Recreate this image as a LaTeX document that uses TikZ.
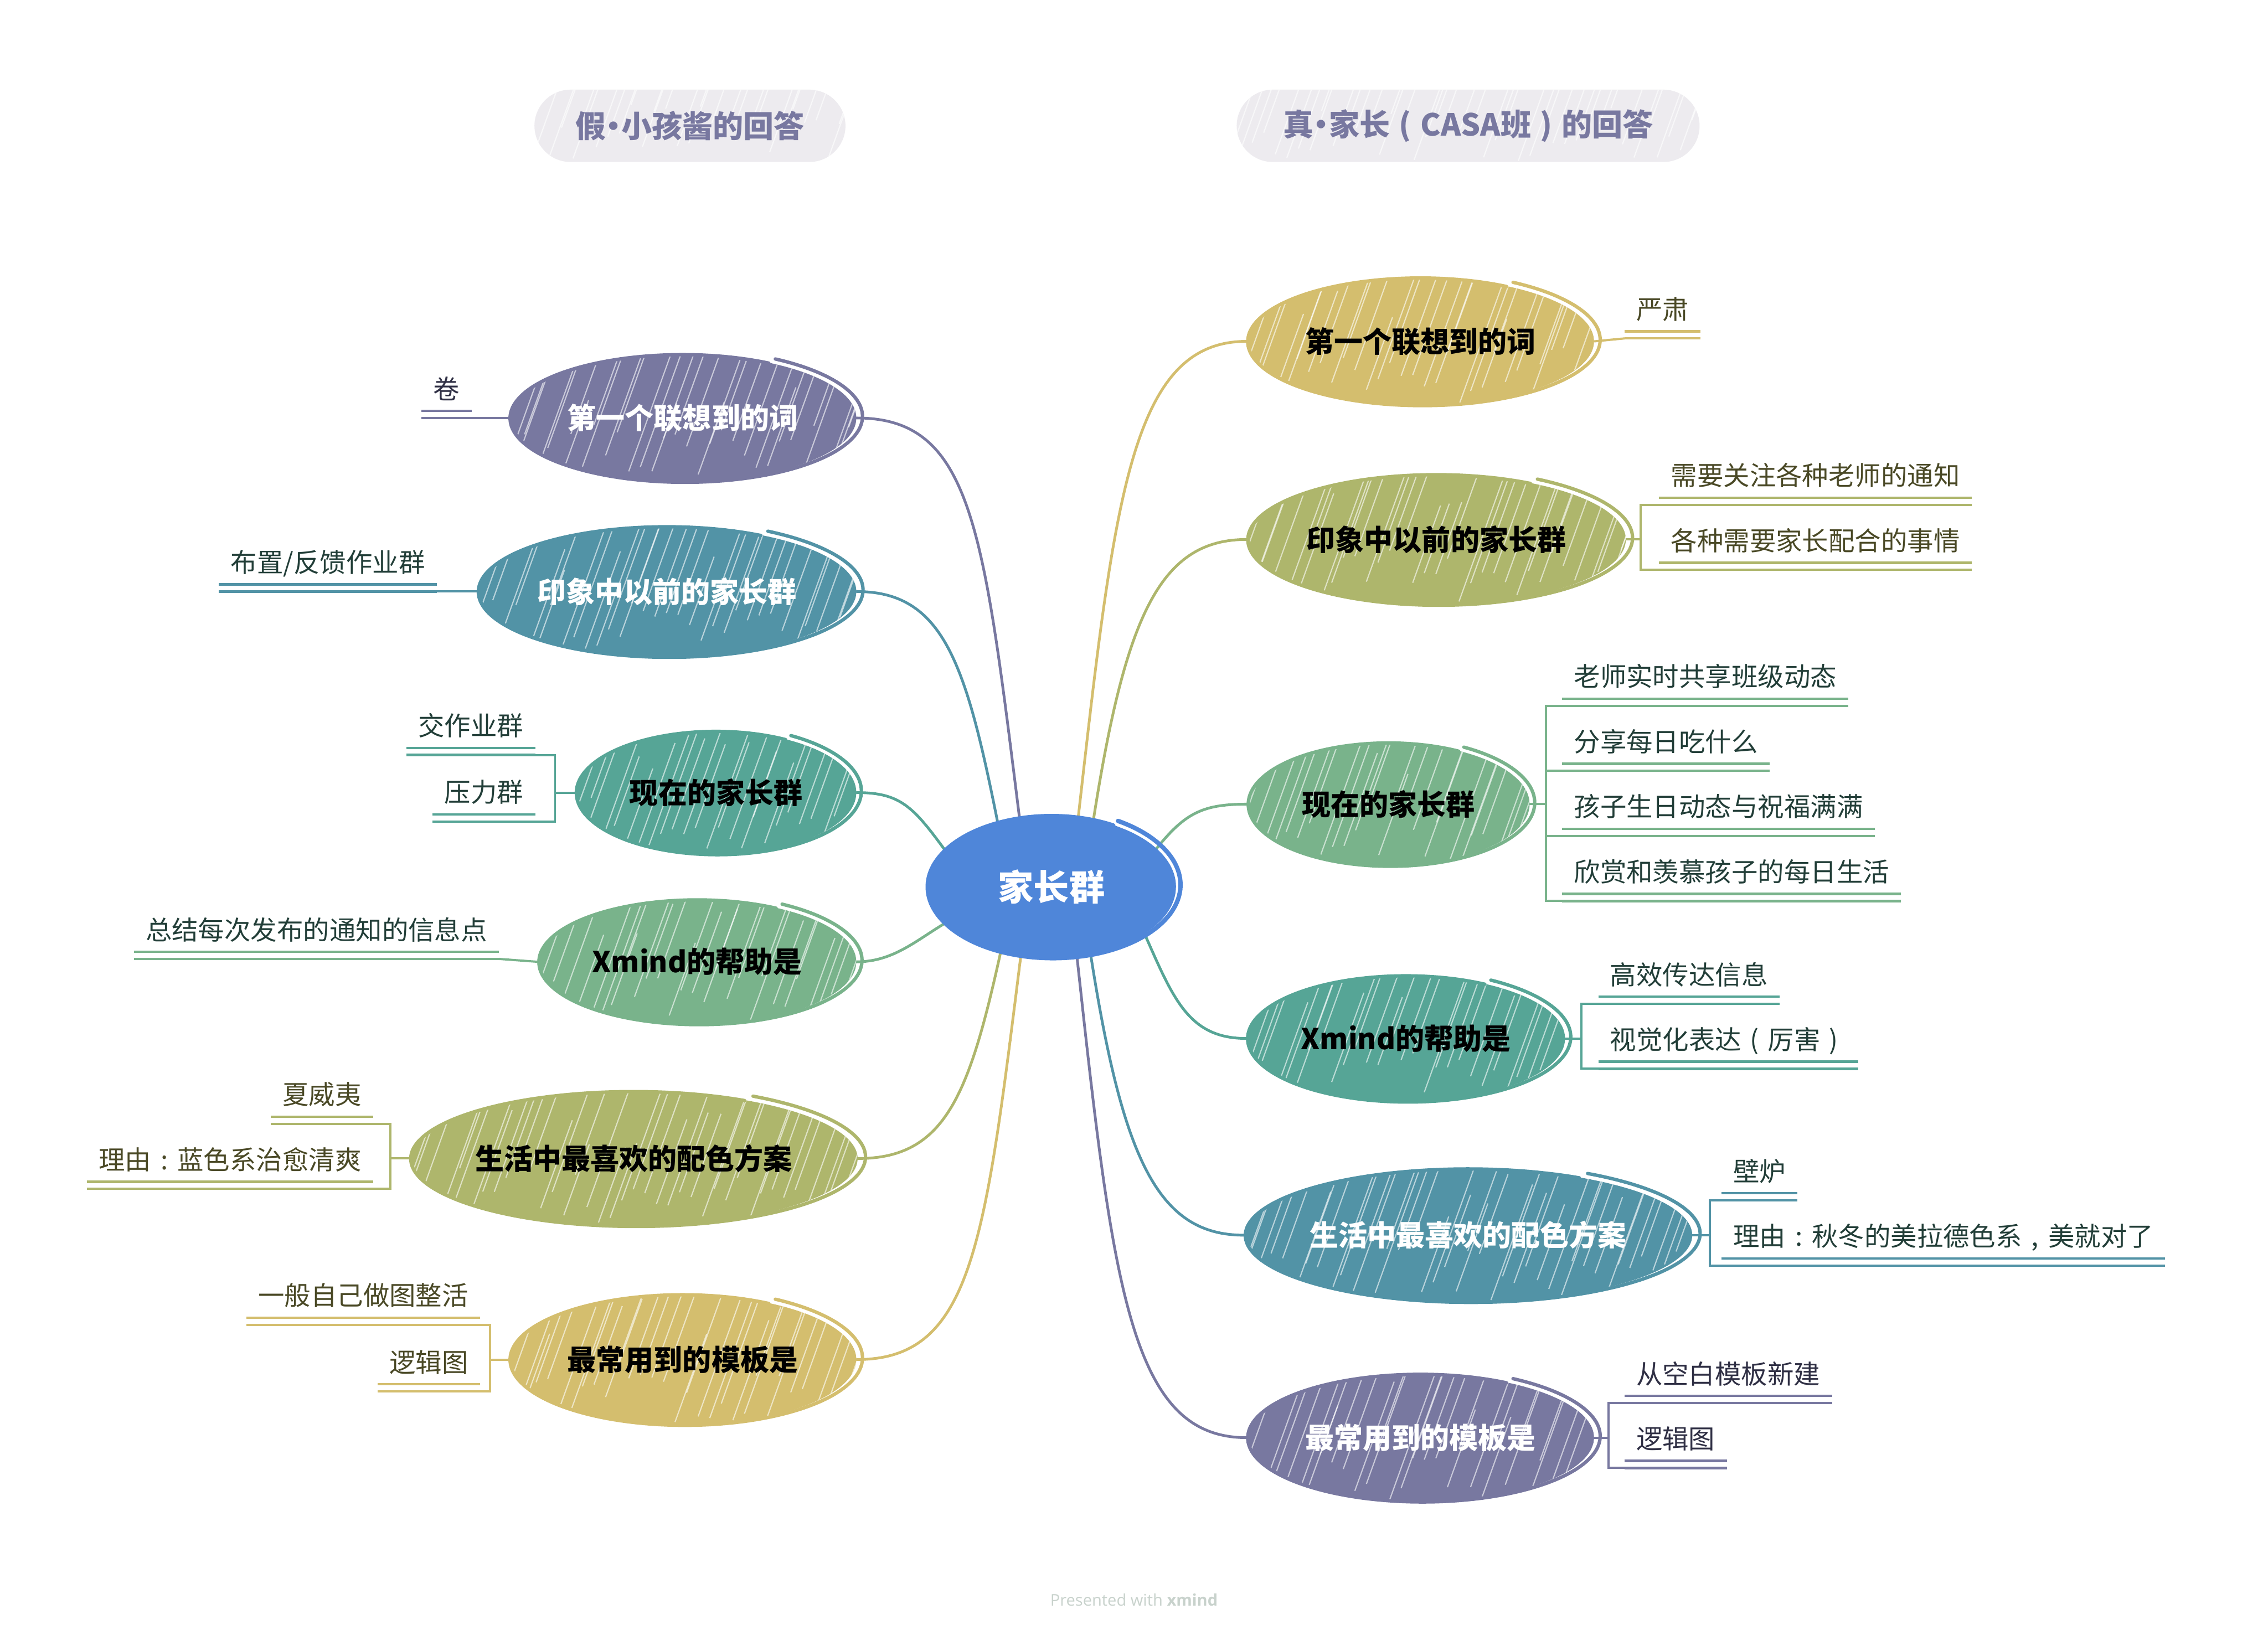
\documentclass[tikz,border=0pt]{standalone}
\usepackage{fontspec}
\setmainfont{Noto Sans CJK SC}
\newfontfamily\latinsans{Open Sans}
\usetikzlibrary{shapes.geometric,calc}
\definecolor{cblue}{HTML}{4F86D9}
\definecolor{cpurple}{HTML}{7878A0}
\definecolor{ctealb}{HTML}{5293A6}
\definecolor{ctealg}{HTML}{56A596}
\definecolor{cgreen}{HTML}{79B38B}
\definecolor{colive}{HTML}{AEB66C}
\definecolor{cgold}{HTML}{D4BE6E}
\definecolor{cpill}{HTML}{EDEBEF}
\definecolor{tolive}{HTML}{4A4926}
\definecolor{tteal}{HTML}{223E38}
\definecolor{tpurple}{HTML}{2F2F44}
\definecolor{credit}{HTML}{C8D2CC}
\newcommand\wlp{\makebox[1em][c]{(}}
\newcommand\wrp{\makebox[1em][c]{)}}
\newcommand\wcolon{\makebox[1em][c]{:}}
\newcommand\wcomma{\makebox[1em][c]{,}}
\newcommand\mdot{\makebox[0.5em][c]{·}}
\pgfdeclarelayer{paper}\pgfdeclarelayer{links}\pgfsetlayers{paper,links,main}
\tikzset{
  hatch/.style={path picture={
    \foreach \k in {0,...,46}{
      \pgfmathsetmacro\ya{rnd*1.2}
      \pgfmathsetmacro\hl{1.4+rnd*2.2}
      \draw[white, line width=0.7pt, opacity=0.6]
        ([xshift=\k*0.24cm-1.6cm, yshift=\ya cm]path picture bounding box.south west)
        -- ++({0.36*\hl*1cm},{\hl*1cm});
    }}},
  mainnode/.style={ellipse, inner sep=0pt, fill=#1, hatch,
    font=\bfseries\fontsize{17}{20}\selectfont},
  pill/.style={rectangle, rounded corners=0.75cm, inner sep=0pt, fill=cpill, hatch,
    text=cpurple, font=\bfseries\fontsize{18}{22}\selectfont},
  subnode/.style={inner xsep=6.8pt, inner ysep=8.2pt, text height=13pt, text depth=3pt,
    font=\fontsize{15.5}{18}\selectfont},
  link/.style={line width=1.6pt, line cap=round},
  bracket/.style={line width=1.3pt, line cap=round},
  ul/.style={line width=1.4pt},
}
\newcommand\sketchring[3]{%
  \draw[#2, line width=#3, line cap=round] let \p1=($(#1.east)-(#1.center)$),
    \p2=($(#1.north)-(#1.center)$), \p3=(#1.center) in
    plot[variable=\t, domain=60:420, samples=140, smooth]
    ({\x3+\x1*(0.99+0.075*((\t-60)/360)^3)*cos(\t)},
     {\y3+\y2*(0.99+0.075*((\t-60)/360)^3)*sin(\t)});}
\newcommand\ulpair[2]{%
  \draw[#2,ul] (#1.south west) -- (#1.south east);
  \draw[#2,ul] ([yshift=4.2pt]#1.south west) -- ([yshift=4.2pt]#1.south east);}
\begin{document}
\begin{tikzpicture}[x=0.03cm,y=-0.03cm]
\pgfmathsetseed{7}
\useasboundingbox (0,0) rectangle (1568,1127);
\begin{pgfonlayer}{paper}
\fill[white] (0,0) rectangle (1568,1127);
\end{pgfonlayer}

% titles
\node[pill, minimum width=6.45cm, minimum height=1.5cm] (P1) at (477,87) {假\mdot 小孩酱的回答};
\node[pill, minimum width=9.6cm, minimum height=1.5cm] (P2) at (1015,87) {真\mdot 家长\wlp CASA班\wrp 的回答};

% center
\node[ellipse, inner sep=0pt, fill=cblue, minimum width=5.16cm, minimum height=2.94cm,
  text=white, font=\bfseries\fontsize{21}{24}\selectfont] (C) at (727,613) {家长群};
\sketchring{C}{cblue}{2.6pt}

% left main nodes
\node[mainnode=cpurple, text=white, minimum width=7.2cm, minimum height=2.64cm] (L1) at (472,289) {第一个联想到的词};
\node[mainnode=ctealb, text=white, minimum width=7.86cm, minimum height=2.7cm] (L2) at (461,409) {印象中以前的家长群};
\node[mainnode=ctealg, text=black, minimum width=5.82cm, minimum height=2.55cm] (L3) at (495,548) {现在的家长群};
\node[mainnode=cgreen, text=black, minimum width=6.6cm, minimum height=2.58cm] (L4) at (482,665) {Xmind的帮助是};
\node[mainnode=colive, text=black, minimum width=9.21cm, minimum height=2.79cm] (L5) at (438,801) {生活中最喜欢的配色方案};
\node[mainnode=cgold, text=black, minimum width=7.2cm, minimum height=2.7cm] (L6) at (472,940) {最常用到的模板是};
% right main nodes
\node[mainnode=cgold, text=black, minimum width=7.2cm, minimum height=2.64cm] (R1) at (982,236) {第一个联想到的词};
\node[mainnode=colive, text=black, minimum width=7.86cm, minimum height=2.7cm] (R2) at (993,373) {印象中以前的家长群};
\node[mainnode=cgreen, text=black, minimum width=5.85cm, minimum height=2.55cm] (R3) at (960,556) {现在的家长群};
\node[mainnode=ctealg, text=black, minimum width=6.6cm, minimum height=2.61cm] (R4) at (972,718) {Xmind的帮助是};
\node[mainnode=ctealb, text=white, minimum width=9.18cm, minimum height=2.76cm] (R5) at (1015,854) {生活中最喜欢的配色方案};
\node[mainnode=cpurple, text=white, minimum width=7.2cm, minimum height=2.64cm] (R6) at (982,994) {最常用到的模板是};

\sketchring{L1}{cpurple}{2pt}
\sketchring{L2}{ctealb}{2pt}
\sketchring{L3}{ctealg}{2pt}
\sketchring{L4}{cgreen}{2pt}
\sketchring{L5}{colive}{2pt}
\sketchring{L6}{cgold}{2pt}
\sketchring{R1}{cgold}{2pt}
\sketchring{R2}{colive}{2pt}
\sketchring{R3}{cgreen}{2pt}
\sketchring{R4}{ctealg}{2pt}
\sketchring{R5}{ctealb}{2pt}
\sketchring{R6}{cpurple}{2pt}

% main connectors
\begin{pgfonlayer}{links}
\draw[cpurple,link] (C.115) .. controls +(-25,-200) and +(80,0) .. (L1.east);
\draw[ctealb,link] (C.130) .. controls +(-22,-110) and +(60,0) .. (L2.east);
\draw[ctealg,link] (C.161) .. controls +(-22,-30) and +(30,0) .. (L3.east);
\draw[cgreen,link] (C.199) .. controls +(-20,12) and +(25,0) .. (L4.east);
\draw[colive,link] (C.232) .. controls +(-22,100) and +(60,0) .. (L5.east);
\draw[cgold,link] (C.246) .. controls +(-25,200) and +(80,0) .. (L6.east);
\draw[cgold,link] (C.69) .. controls +(25,-220) and +(-80,0) .. (R1.west);
\draw[colive,link] (C.58) .. controls +(22,-140) and +(-60,0) .. (R2.west);
\draw[cgreen,link] (C.20) .. controls +(20,-25) and +(-30,0) .. (R3.west);
\draw[ctealg,link] (C.333) .. controls +(20,45) and +(-40,0) .. (R4.west);
\draw[ctealb,link] (C.300) .. controls +(22,140) and +(-60,0) .. (R5.west);
\draw[cpurple,link] (C.290) .. controls +(25,230) and +(-80,0) .. (R6.west);
\end{pgfonlayer}

% right subtopics
\node[subnode, anchor=south west, text=tolive] (r1a) at (1123,234) {严肃};
\node[subnode, anchor=south west, text=tolive] (r2a) at (1147,349) {需要关注各种老师的通知};
\node[subnode, anchor=south west, text=tolive] (r2b) at (1147,394) {各种需要家长配合的事情};
\node[subnode, anchor=south west, text=tteal] (r3a) at (1080,488) {老师实时共享班级动态};
\node[subnode, anchor=south west, text=tteal] (r3b) at (1080,533) {分享每日吃什么};
\node[subnode, anchor=south west, text=tteal] (r3c) at (1080,578) {孩子生日动态与祝福满满};
\node[subnode, anchor=south west, text=tteal] (r3d) at (1080,623) {欣赏和羡慕孩子的每日生活};
\node[subnode, anchor=south west, text=tteal] (r4a) at (1105,694) {高效传达信息};
\node[subnode, anchor=south west, text=tteal] (r4b) at (1105,739) {视觉化表达\wlp 厉害\wrp};
\node[subnode, anchor=south west, text=tteal] (r5a) at (1190,830) {壁炉};
\node[subnode, anchor=south west, text=tteal] (r5b) at (1190,875) {理由\wcolon 秋冬的美拉德色系\wcomma 美就对了};
\node[subnode, anchor=south west, text=tpurple] (r6a) at (1123,970) {从空白模板新建};
\node[subnode, anchor=south west, text=tpurple] (r6b) at (1123,1015) {逻辑图};
% left subtopics
\node[subnode, anchor=south east, text=tpurple] (l1a) at (326,289) {卷};
\node[subnode, anchor=south east, text=tteal] (l2a) at (302,409) {布置/反馈作业群};
\node[subnode, anchor=south east, text=tteal] (l3a) at (370,522) {交作业群};
\node[subnode, anchor=south east, text=tteal] (l3b) at (370,568) {压力群};
\node[subnode, anchor=south east, text=tteal] (l4a) at (345,663) {总结每次发布的通知的信息点};
\node[subnode, anchor=south east, text=tolive] (l5a) at (258,777) {夏威夷};
\node[subnode, anchor=south east, text=tolive] (l5b) at (258,822) {理由\wcolon 蓝色系治愈清爽};
\node[subnode, anchor=south east, text=tolive] (l6a) at (332,916) {一般自己做图整活};
\node[subnode, anchor=south east, text=tolive] (l6b) at (332,962) {逻辑图};

% underlines
\ulpair{r1a}{cgold}
\ulpair{r2a}{colive}\ulpair{r2b}{colive}
\ulpair{r3a}{cgreen}\ulpair{r3b}{cgreen}\ulpair{r3c}{cgreen}\ulpair{r3d}{cgreen}
\ulpair{r4a}{ctealg}\ulpair{r4b}{ctealg}
\ulpair{r5a}{ctealb}\ulpair{r5b}{ctealb}
\ulpair{r6a}{cpurple}\ulpair{r6b}{cpurple}
\ulpair{l1a}{cpurple}
\ulpair{l2a}{ctealb}
\ulpair{l3a}{ctealg}\ulpair{l3b}{ctealg}
\ulpair{l4a}{cgreen}
\ulpair{l5a}{colive}\ulpair{l5b}{colive}
\ulpair{l6a}{cgold}\ulpair{l6b}{cgold}

% sub connectors
\begin{pgfonlayer}{links}
\draw[cgold,bracket] (R1.east) -- (r1a.south west);
\draw[colive,bracket] (R2.east) -- ++(10,0) |- (r2a.south west);
\draw[colive,bracket] (R2.east) -- ++(10,0) |- (r2b.south west);
\draw[cgreen,bracket] (R3.east) -- ++(11,0) |- (r3a.south west);
\draw[cgreen,bracket] (R3.east) -- ++(11,0) |- (r3b.south west);
\draw[cgreen,bracket] (R3.east) -- ++(11,0) |- (r3c.south west);
\draw[cgreen,bracket] (R3.east) -- ++(11,0) |- (r3d.south west);
\draw[ctealg,bracket] (R4.east) -- ++(11,0) |- (r4a.south west);
\draw[ctealg,bracket] (R4.east) -- ++(11,0) |- (r4b.south west);
\draw[ctealb,bracket] (R5.east) -- ++(12,0) |- (r5a.south west);
\draw[ctealb,bracket] (R5.east) -- ++(12,0) |- (r5b.south west);
\draw[cpurple,bracket] (R6.east) -- ++(10,0) |- (r6a.south west);
\draw[cpurple,bracket] (R6.east) -- ++(10,0) |- (r6b.south west);
\draw[cpurple,bracket] (L1.west) -- (l1a.south east);
\draw[ctealb,bracket] (L2.west) -- (l2a.south east);
\draw[ctealg,bracket] (L3.west) -- ++(-14,0) |- (l3a.south east);
\draw[ctealg,bracket] (L3.west) -- ++(-14,0) |- (l3b.south east);
\draw[cgreen,bracket] (L4.west) -- (l4a.south east);
\draw[colive,bracket] (L5.west) -- ++(-13,0) |- (l5a.south east);
\draw[colive,bracket] (L5.west) -- ++(-13,0) |- (l5b.south east);
\draw[cgold,bracket] (L6.west) -- ++(-13,0) |- (l6a.south east);
\draw[cgold,bracket] (L6.west) -- ++(-13,0) |- (l6b.south east);
\end{pgfonlayer}

% credit
\node[font=\latinsans\fontsize{9.5}{11}\selectfont, text=credit] (credit) at (784,1106) {Presented with \textbf{xmind}};
\end{tikzpicture}
\end{document}
